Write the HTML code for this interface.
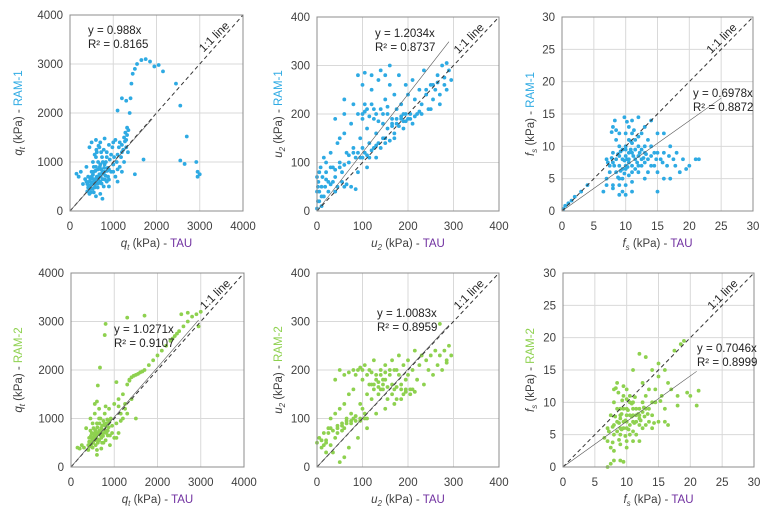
<!DOCTYPE html>
<html><head><meta charset="utf-8"><style>
body{margin:0;background:#fff;}
svg{display:block;font-family:"Liberation Sans",sans-serif;}
.tk{font-size:11.5px;fill:#404040;}
.ann{font-size:11.5px;fill:#222;}
.ttl{font-size:11.5px;fill:#404040;}
</style></head><body>
<svg id="c" width="773" height="513" viewBox="0 0 773 513"></svg>
<script>
const p1 = [[420,480],[450,600],[480,520],[500,700],[520,450],[550,800],[560,620],[580,540],[600,900],[620,700],[640,480],[650,1000],[680,750],[700,600],[720,850],[740,1100],[760,650],[780,500],[800,950],[820,720],[850,1200],[870,880],[900,640],[920,1050],[950,800],[980,1300],[1000,950],[1050,700],[1100,1150],[1150,900],[1200,1350],[1250,1000],[1280,1600],[1300,1450],[1320,1700],[1350,1650],[1380,2000],[1400,2300],[1420,2600],[1450,2800],[1500,2900],[1550,3000],[1650,3080],[1750,3100],[1850,3050],[1950,2950],[2050,2980],[2150,2850],[450,1300],[500,1400],[600,1450],[700,1400],[800,1480],[900,1350],[1000,1400],[380,900],[350,650],[400,400],[300,550],[250,800],[200,700],[150,760],[2450,2600],[2550,2150],[2700,1520],[2550,1030],[2650,960],[2920,1000],[2950,800],[3000,750],[2950,700],[1700,1050],[1100,2050],[1300,2250],[1200,2300],[1500,750],[1100,600],[900,500],[700,350],[600,300],[750,250],[550,380],[650,560],[450,350],[1200,800],[1050,1450],[850,1100],[950,1150],[500,550],[550,650],[600,600],[650,700],[700,750],[750,800],[400,550],[450,450],[500,800],[550,900],[600,1100],[650,850],[700,950],[800,800],[850,600],[900,850],[1000,800],[1100,850],[1200,1200],[1300,1300],[1250,1500],[1150,1400],[380,600],[420,700],[480,380],[620,1200],[680,1300],[780,1250],[430,520],[470,650],[510,580],[530,740],[570,480],[590,820],[610,660],[630,560],[660,640],[690,900],[710,700],[730,560],[770,760],[790,880],[810,640],[830,1000],[860,820],[880,700],[530,1000],[570,1150],[610,1250],[660,1330],[720,1200],[760,1000],[1020,1100],[1080,1000],[1130,1300],[1180,1100],[1230,1250],[1270,1420],[1320,1550],[1340,1200]];
const p2 = [[2,20],[3,60],[5,40],[8,90],[10,30],[12,70],[15,110],[18,50],[20,80],[25,60],[30,120],[35,90],[40,70],[45,140],[50,100],[55,80],[60,160],[65,120],[70,100],[75,180],[80,130],[85,110],[90,200],[95,150],[100,130],[105,220],[110,170],[115,140],[120,250],[125,190],[130,160],[135,270],[140,210],[145,180],[150,230],[155,200],[160,260],[165,190],[170,240],[175,210],[180,280],[185,220],[190,200],[195,260],[200,240],[205,190],[210,270],[215,230],[220,200],[225,250],[230,220],[235,290],[240,240],[245,210],[250,260],[255,230],[260,250],[265,280],[270,240],[275,300],[280,260],[285,250],[290,290],[295,270],[100,260],[80,220],[120,280],[60,200],[140,290],[160,300],[50,150],[30,90],[20,100],[110,90],[130,110],[150,140],[170,160],[190,170],[210,180],[230,200],[250,210],[270,220],[40,40],[60,50],[90,80],[0,5],[5,20],[10,10],[0,40],[0,70],[2,50],[5,80],[15,30],[25,40],[35,60],[45,50],[55,60],[65,55],[75,50],[85,45],[95,110],[105,120],[115,110],[125,130],[135,140],[145,150],[155,170],[165,180],[175,190],[185,190],[195,200],[100,200],[110,210],[120,220],[130,200],[90,280],[105,285],[150,280],[40,190],[60,230],[100,190],[105,205],[115,195],[125,210],[135,185],[145,200],[155,215],[165,175],[175,180],[185,195],[195,185],[205,200],[215,195],[225,205],[240,250],[255,260],[265,265],[280,275],[285,305],[10,50],[20,65],[30,55],[40,85],[50,90],[60,95],[70,115],[80,120],[90,120],[100,110],[110,115],[120,125],[130,135],[140,130],[150,150],[160,145],[170,150],[180,175],[190,185],[200,190]];
const p3 = [[0.2,0.3],[0.5,0.8],[1,1.2],[1.5,1.6],[2,2.2],[3,3],[4,4],[7,5],[7.5,7],[8,3.5],[8,9],[8.5,6],[9,12],[9,5],[9.5,8],[9.5,3],[10,10],[10,6.5],[10.5,13],[10.5,7.5],[11,9],[11,4.5],[11,14],[11.5,8],[11.5,11],[12,6],[12,10],[12.5,12],[12.5,7],[13,9],[13,5],[13.5,11],[13.5,8],[14,7],[14,10],[14.5,9],[15,6],[15,12],[15.5,8],[16,9],[16.5,7],[17,10],[17.5,8],[18,9],[18.5,6],[19,8],[20,7],[21,8],[21.5,8],[8.5,11],[9,7],[10,8.5],[10.5,5.5],[11.5,6.5],[12,8.5],[9.5,9.5],[10,12],[11,10.5],[12,11.5],[8,7.5],[7,8],[9,4],[10,4],[11,3],[13,13],[14,14],[12,14.5],[10,2.5],[15,3],[16,12],[9,10],[10.5,9],[11,7],[12.5,9.5],[13,7.5],[8,13],[8.5,12.5],[7.5,6],[8,4],[9,2.5],[9.5,6.5],[10,7],[10.5,8],[11,6],[11.5,9.5],[12,7],[12.5,8],[13,10],[13.5,6],[14,8.5],[14.5,7],[15,9],[9,8.5],[10,9.5],[10.5,11],[11,12],[7,4],[6.5,3],[8.5,8],[9.5,5],[7.2,7.5],[7.8,8.2],[8.2,7],[8.8,8.8],[9.2,9.2],[9.8,7.8],[10.2,8],[10.8,9.5],[11.2,8.5],[11.8,7.5],[12.2,9],[12.8,8.2],[13.2,8.8],[9.2,6.2],[9.8,5.8],[10.3,6.8],[8.8,5.2],[10.8,10.8],[11.3,12.5],[10.2,13.8],[9.8,14.5],[8.3,14],[7.8,12.2],[14.8,8],[15.8,7.5],[16.8,8.5],[17.8,7],[19.5,6.5],[17,5],[16,5]];
const p4 = [[400,450],[420,600],[450,500],[480,700],[500,400],[520,800],[550,550],[580,650],[600,900],[620,500],[650,750],[680,1000],[700,600],[720,850],[750,700],[780,1100],[800,550],[820,900],[850,750],[880,1200],[900,650],[920,1000],[950,850],[1000,1300],[1050,900],[1100,1400],[1150,1100],[1200,1500],[1250,1300],[1300,1700],[1350,1800],[1400,1850],[1500,1900],[1600,1950],[1700,2000],[1800,2100],[1900,2200],[2000,2300],[2100,2400],[2200,2500],[2300,2600],[2400,2700],[2500,2800],[2600,2900],[2700,3000],[2800,3100],[2900,3150],[3000,3200],[2950,2900],[2550,3150],[2700,3180],[1300,3080],[1700,3120],[800,2950],[780,2720],[670,2050],[620,1680],[1050,1750],[1500,1000],[300,400],[250,450],[200,380],[150,400],[350,800],[450,1000],[550,1100],[650,1200],[800,1250],[1200,1000],[1300,1100],[1000,600],[900,450],[700,380],[600,350],[1100,700],[1400,1400],[500,600],[600,700],[700,800],[800,850],[550,1300],[600,1350],[650,1000],[750,950],[850,650],[950,700],[1050,600],[1150,950],[450,750],[500,900],[550,700],[650,550],[750,500],[850,900],[400,350],[600,250],[420,520],[460,640],[490,560],[530,680],[560,760],[590,600],[610,820],[640,680],[660,900],[690,720],[710,780],[740,640],[770,880],[790,760],[820,700],[840,980],[870,820],[890,940],[430,420],[470,470],[510,500],[540,620],[570,450],[630,560],[680,660],[720,500],[1350,1780],[1450,1880],[1550,1920],[1650,1970],[2350,2650],[2450,2750],[1250,1200],[1100,1250]];
const p5 = [[0,50],[5,60],[10,40],[15,70],[20,55],[25,80],[30,100],[35,30],[40,110],[45,70],[50,120],[55,90],[60,130],[65,100],[70,150],[75,110],[80,160],[85,190],[90,200],[95,130],[100,180],[105,210],[110,150],[115,200],[120,170],[125,220],[130,180],[135,150],[140,200],[145,170],[150,210],[155,140],[160,190],[165,220],[170,160],[175,200],[180,230],[185,170],[190,210],[195,180],[200,220],[205,160],[210,200],[215,240],[220,180],[225,210],[230,230],[235,170],[240,220],[245,200],[250,230],[255,190],[260,240],[265,210],[270,230],[275,200],[280,240],[285,220],[290,250],[295,230],[60,80],[80,100],[100,120],[120,140],[140,160],[40,60],[20,30],[50,10],[70,40],[90,60],[110,80],[130,110],[150,120],[170,130],[190,150],[100,200],[120,195],[140,190],[160,200],[180,190],[110,100],[60,20],[200,190],[150,180],[50,200],[70,195],[60,190],[40,180],[30,80],[45,85],[55,75],[65,95],[75,90],[85,105],[95,100],[105,110],[125,170],[135,165],[145,160],[165,150],[175,140],[185,140],[195,160],[205,150],[270,295],[285,215],[10,55],[20,50],[30,45],[15,45],[25,70],[35,75],[45,80],[55,85],[65,90],[75,95],[85,95],[95,95],[105,100],[115,170],[125,160],[135,175],[145,180],[155,165],[165,170],[175,165],[185,160],[195,155],[210,160],[215,155],[80,200],[95,205],[110,190],[130,190],[150,195],[170,200]];
const p6 = [[6.5,4.5],[7,0],[7.5,0.5],[8,1],[9,1],[9.5,0.8],[7,6],[7.5,8],[8,12],[8,5],[8.5,7],[8.5,13],[9,9],[9,3.5],[9.5,6],[9.5,11],[10,8],[10,4],[10.5,10],[10.5,6.5],[11,7],[11,15],[11.5,9],[11.5,5],[12,8],[12,17.5],[12.5,10],[12.5,6],[13,9],[13,17],[13.5,7],[13.5,12],[14,8],[14,15],[14.5,10],[15,7],[15,14],[15.5,11],[16,9],[16.5,13],[17,12],[17.5,18],[18,11],[18.5,19],[19,19.5],[19.5,11.5],[21,9.5],[21.3,11.8],[20,11],[16,7],[14,6],[12,4],[10,3],[8.5,9],[9,7.5],[10,9],[10.5,11],[11,8],[11.5,7],[12,6.5],[9.5,12.5],[8,10],[10,12],[13,11],[11,4],[9,5],[7,4],[12.5,13],[14.5,12],[15,16],[16,15],[10,6],[11,10],[12,9],[8,6.5],[8.5,5.5],[9,6],[9.5,7],[10,7],[10.5,8],[11,9],[11.5,8],[12,7.5],[12.5,8.5],[13,6.5],[13.5,9],[14,10],[9,8],[9.5,9],[10,10.5],[10.5,5],[11,5.5],[7.5,3],[8,2.5],[16.5,6.5],[18,9.5],[7.2,5.5],[7.8,6.2],[8.2,7.8],[8.8,6.8],[9.2,8.2],[9.8,7.2],[10.2,8.8],[10.8,7.8],[11.2,6.8],[11.8,8.2],[12.2,7.2],[12.8,7.8],[9.2,5.8],[9.8,4.8],[10.3,5.8],[8.8,4.2],[10.8,9.8],[11.3,10.8],[8.3,12.2],[8.7,11.5],[7.8,3.8],[9.3,10.3],[12.7,9.2],[13.3,8.2],[14.3,6.8],[15.3,10.2]];
const xTicks = [[0,1000,2000,3000,4000],[0,100,200,300,400],[0,5,10,15,20,25,30]];
const slopes = [0.988,1.2034,0.6978,1.0271,1.0083,0.7046];
const eqText = ["y = 0.988x","y = 1.2034x","y = 0.6978x","y = 1.0271x","y = 1.0083x","y = 0.7046x"];
const r2Text = ["R² = 0.8165","R² = 0.8737","R² = 0.8872","R² = 0.9107","R² = 0.8959","R² = 0.8999"];

const NS='http://www.w3.org/2000/svg';
const svg=document.getElementById('c');
function mk(tag,attrs,parent){const e=document.createElementNS(NS,tag);for(const k in attrs)e.setAttribute(k,attrs[k]);(parent||svg).appendChild(e);return e;}
const BLUE='#2eaae3',GREEN='#8ed14f';
const panels=[
 {d:p1,t:0,x0:70,x1:243,y0:15,y1:211,col:BLUE,sym:'q',sub:'t',ram:'RAM-1',ytx:22,tEnd:1900,ex:88,ey:30},
 {d:p2,t:1,x0:317,x1:499,y0:17,y1:211,col:BLUE,sym:'u',sub:'2',ram:'RAM-1',ytx:282,tEnd:290,ex:375,ey:33},
 {d:p3,t:2,x0:562,x1:753,y0:17,y1:211,col:BLUE,sym:'f',sub:'s',ram:'RAM-1',ytx:534,tEnd:25,ex:693,ey:93},
 {d:p4,t:0,x0:71,x1:244,y0:273,y1:467,col:GREEN,sym:'q',sub:'t',ram:'RAM-2',ytx:22,tEnd:2950,ex:114,ey:329},
 {d:p5,t:1,x0:317,x1:499,y0:273,y1:467,col:GREEN,sym:'u',sub:'2',ram:'RAM-2',ytx:282,tEnd:290,ex:377,ey:313},
 {d:p6,t:2,x0:563,x1:754,y0:273,y1:467,col:GREEN,sym:'f',sub:'s',ram:'RAM-2',ytx:534,tEnd:21,ex:697,ey:348}
];
panels.forEach((p,i)=>{
 const ticks=xTicks[p.t], max=ticks[ticks.length-1];
 const sx=v=>p.x0+(v/max)*(p.x1-p.x0);
 const sy=v=>p.y1-(v/max)*(p.y1-p.y0);
 const g=mk('g',{});
 
 
 ticks.forEach(t=>{
  if(t>0&&t<max){
   const gl=mk('line',{x1:sx(t),x2:sx(t),y1:p.y0,y2:p.y1,stroke:'#d9d9d9','stroke-width':1},g);
   
   const gh=mk('line',{x1:p.x0,x2:p.x1,y1:sy(t),y2:sy(t),stroke:'#d9d9d9','stroke-width':1},g);
   
  }
  const tx=mk('text',{x:sx(t),y:p.y1+19,'text-anchor':'middle',class:'tk'},g);tx.textContent=t;
  
  const ty=mk('text',{x:p.x0-7,y:sy(t)+4,'text-anchor':'end',class:'tk'},g);ty.textContent=t;
  
 });
 p.d.forEach(pt=>{
  const c=mk('circle',{cx:sx(pt[0]),cy:sy(pt[1]),r:1.9,fill:p.col},g);
  
 });
 const ol=mk('line',{x1:sx(0),y1:sy(0),x2:sx(max),y2:sy(max),stroke:'#333','stroke-width':1,'stroke-dasharray':'4,3'},g);
 
 const tl=mk('line',{x1:sx(0),y1:sy(0),x2:sx(p.tEnd),y2:sy(p.tEnd*slopes[i]),stroke:'#555','stroke-width':0.6},g);
 
 const bd=mk('rect',{x:p.x0,y:p.y0,width:p.x1-p.x0,height:p.y1-p.y0,fill:'none',stroke:'#8c8c8c','stroke-width':1},g);
 
 const lx=sx(max*0.86), ly=sy(max*0.86);
 const lb=mk('text',{x:lx-2,y:ly-3,'text-anchor':'middle',class:'ann',transform:`rotate(-45 ${lx-2} ${ly-3})`,'font-size':'10.5'},g);lb.textContent='1:1 line';
 
 const e1=mk('text',{x:p.ex,y:p.ey+4,class:'ann'},g);e1.textContent=eqText[i];
 
 const e2=mk('text',{x:p.ex,y:p.ey+18,class:'ann'},g);e2.textContent=r2Text[i];
 
 const xc=(p.x0+p.x1)/2, xt=mk('text',{x:xc,y:p.y1+36,'text-anchor':'middle',class:'ttl'},g);
 xt.innerHTML=`<tspan font-style="italic">${p.sym}</tspan><tspan font-style="italic" font-size="8" dy="3">${p.sub}</tspan><tspan dy="-3"> (kPa) - </tspan><tspan fill="#7030a0">TAU</tspan>`;
 
 const yc=(p.y0+p.y1)/2, yt=mk('text',{x:p.ytx,y:yc,'text-anchor':'middle',class:'ttl',transform:`rotate(-90 ${p.ytx} ${yc})`},g);
 yt.innerHTML=`<tspan font-style="italic">${p.sym}</tspan><tspan font-style="italic" font-size="8" dy="3">${p.sub}</tspan><tspan dy="-3"> (kPa) - </tspan><tspan fill="${p.col}">${p.ram}</tspan>`;
 
});
</script>
</body></html>
